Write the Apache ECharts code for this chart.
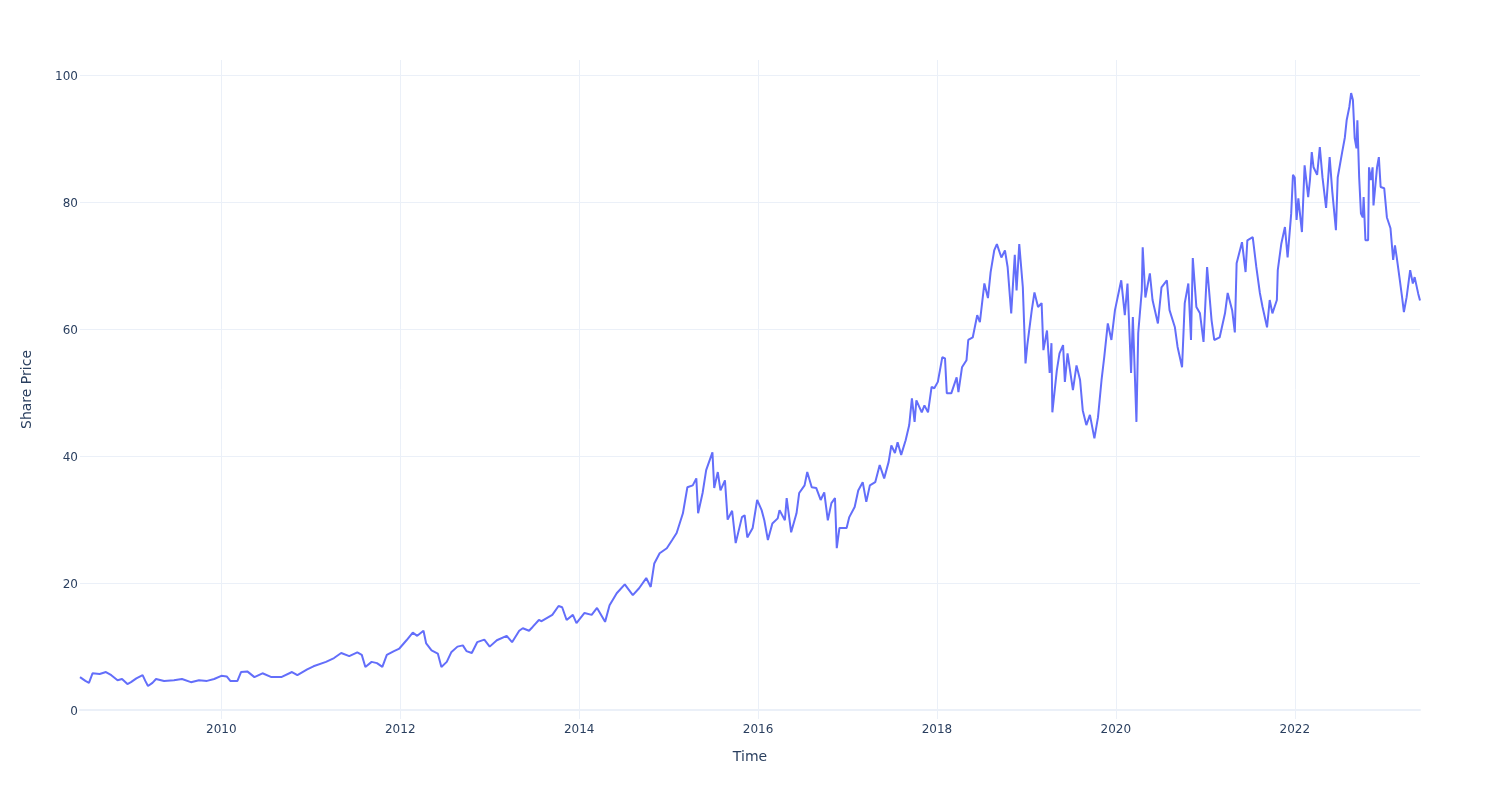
<!DOCTYPE html>
<html>
<head>
<meta charset="utf-8">
<script src="https://cdn.jsdelivr.net/npm/echarts@6/dist/echarts.min.js"></script>
<style>
html,body{margin:0;padding:0;background:#fff;}
#chart{width:1500px;height:800px;}
</style>
</head>
<body>
<div id="chart"></div>
<script>
// Time in decimal years, share price values
const years = [
2008.42,2008.48,2008.52,2008.56,2008.64,2008.71,2008.77,2008.84,2008.89,2008.95,2008.99,2009.05,2009.12,2009.15,2009.18,2009.23,2009.27,2009.36,2009.47,2009.56,2009.66,2009.75,2009.84,2009.92,
2010.00,2010.06,2010.10,2010.18,2010.22,2010.29,2010.37,2010.46,2010.56,2010.67,2010.79,2010.85,2010.96,
2011.03,2011.17,2011.26,2011.34,2011.43,2011.52,2011.57,2011.61,2011.68,2011.74,2011.80,2011.85,2011.93,2011.99,
2012.07,2012.14,2012.19,2012.26,2012.29,2012.35,2012.42,2012.46,2012.52,2012.57,2012.64,2012.70,2012.74,2012.80,2012.86,2012.94,
2013.00,2013.08,2013.19,2013.25,2013.33,2013.37,2013.44,2013.48,2013.55,2013.58,2013.70,2013.77,2013.81,2013.86,2013.93,2013.97,
2014.06,2014.14,2014.20,2014.29,2014.34,2014.42,2014.51,2014.60,2014.67,2014.75,2014.80,2014.84,2014.90,2014.98,
2015.04,2015.09,2015.16,2015.21,2015.27,2015.31,2015.33,2015.38,2015.42,2015.49,2015.51,2015.55,2015.58,2015.63,2015.66,2015.71,2015.75,2015.82,2015.85,2015.88,2015.94,2015.99,
2016.04,2016.07,2016.11,2016.16,2016.22,2016.24,2016.30,2016.32,2016.37,2016.43,2016.46,2016.52,2016.55,2016.60,2016.65,2016.70,2016.74,2016.78,2016.82,2016.86,2016.88,2016.91,2016.99,
2017.02,2017.08,2017.12,2017.17,2017.21,2017.25,2017.31,2017.36,2017.41,2017.46,2017.49,2017.53,2017.56,2017.60,2017.65,2017.69,2017.72,2017.75,2017.77,2017.83,2017.86,2017.90,2017.94,2017.97,
2018.01,2018.06,2018.09,2018.11,2018.16,2018.22,2018.24,2018.28,2018.33,2018.35,2018.40,2018.45,2018.48,2018.53,2018.57,2018.60,2018.64,2018.67,2018.72,2018.76,2018.79,2018.83,2018.87,2018.89,2018.92,2018.96,2018.99,
2019.01,2019.06,2019.09,2019.13,2019.17,2019.19,2019.23,2019.26,2019.28,2019.29,2019.34,2019.37,2019.41,2019.43,2019.46,2019.52,2019.56,2019.60,2019.63,2019.67,2019.71,2019.76,2019.80,2019.84,2019.87,2019.91,2019.95,2019.99,
2020.06,2020.10,2020.13,2020.17,2020.19,2020.23,2020.25,2020.29,2020.30,2020.33,2020.38,2020.41,2020.47,2020.51,2020.57,2020.60,2020.66,2020.69,2020.74,2020.77,2020.81,2020.84,2020.86,2020.90,2020.94,2020.98,
2021.02,2021.07,2021.10,2021.16,2021.22,2021.25,2021.30,2021.33,2021.35,2021.41,2021.45,2021.47,2021.53,2021.57,2021.61,2021.64,2021.69,2021.72,2021.75,2021.80,2021.81,2021.85,2021.89,2021.92,2021.96,2021.98,
2022.00,2022.02,2022.04,2022.08,2022.11,2022.15,2022.17,2022.19,2022.21,2022.25,2022.28,2022.30,2022.31,2022.35,2022.39,2022.42,2022.46,2022.48,2022.53,2022.56,2022.58,2022.61,2022.63,2022.65,2022.67,2022.69,2022.70,2022.72,2022.74,2022.76,2022.77,2022.79,2022.82,2022.83,2022.85,2022.87,2022.88,2022.92,2022.94,2022.96,
2023.00,2023.03,2023.07,2023.10,2023.12,2023.14,2023.17,2023.20,2023.22,2023.25,2023.29,2023.32,2023.34,2023.38,2023.40
];
const prices = [
5.2,4.6,4.3,5.8,5.7,6.0,5.5,4.7,4.9,4.1,4.4,5.0,5.5,4.6,3.8,4.3,4.9,4.6,4.7,4.9,4.4,4.7,4.6,4.9,
5.4,5.3,4.6,4.6,6.0,6.1,5.2,5.8,5.2,5.2,6.0,5.5,6.4,
6.9,7.6,8.2,9.0,8.5,9.1,8.7,6.8,7.6,7.4,6.8,8.7,9.3,9.7,
11.0,12.2,11.7,12.5,10.5,9.4,8.9,6.8,7.6,9.1,10.0,10.2,9.3,9.0,10.7,11.1,
10.0,11.0,11.7,10.7,12.5,12.9,12.5,13.1,14.2,14.0,15.0,16.4,16.2,14.2,15.0,13.7,
15.3,15.0,16.1,13.9,16.5,18.4,19.8,18.1,19.2,20.8,19.4,23.1,24.7,25.5,
26.8,27.9,31.0,35.1,35.4,36.5,31.0,34.2,37.8,40.6,35.0,37.5,34.6,36.2,30.0,31.4,26.3,30.4,30.7,27.2,28.7,33.1,
31.5,29.9,26.8,29.4,30.2,31.5,29.9,33.4,28.0,31.0,34.2,35.4,37.5,35.1,35.0,33.1,34.3,29.9,32.6,33.4,25.5,28.7,28.7,
30.4,32.0,34.6,35.9,32.8,35.4,35.9,38.6,36.5,39.1,41.7,40.5,42.2,40.2,42.5,44.9,49.1,45.4,48.8,46.9,48.0,46.9,50.9,50.7,
51.7,55.6,55.4,49.9,49.9,52.4,50.1,54.0,55.1,58.3,58.7,62.2,61.1,67.2,64.9,69.0,72.4,73.4,71.3,72.4,69.8,62.5,71.7,66.1,73.4,66.6,54.6,
57.5,63.0,65.8,63.5,64.1,56.7,59.8,53.1,57.8,46.9,53.5,56.2,57.5,51.7,56.2,50.4,54.3,52.0,47.2,44.9,46.5,42.8,46.1,52.0,55.6,60.9,58.3,63.0,
67.7,62.2,67.2,53.1,61.9,45.4,59.4,66.1,72.9,65.0,68.8,64.6,60.9,66.6,67.7,63.0,60.3,57.2,54.0,64.1,67.2,58.3,71.2,63.5,62.5,58.0,
69.8,61.4,58.3,58.7,62.5,65.7,63.0,59.5,70.4,73.7,69.0,74.0,74.5,69.8,65.7,63.5,60.3,64.6,62.5,64.6,69.3,73.5,76.1,71.3,78.2,84.3,
83.9,77.2,80.6,75.3,85.8,80.8,83.5,87.9,85.5,84.3,88.7,89.0,83.9,79.1,87.1,81.6,75.6,83.9,87.9,90.2,92.9,95.0,97.2,96.1,90.1,88.5,92.9,83.9,78.2,77.6,80.8,74.0,74.0,85.5,83.5,85.5,79.5,85.5,87.1,82.4,
82.2,77.6,75.9,70.9,73.2,71.3,68.2,65.0,62.7,65.0,69.3,67.2,68.2,65.6,64.5
];
const xTicks = [2010, 2012, 2014, 2016, 2018, 2020, 2022];
const yTicks = [0, 20, 40, 60, 80, 100];

const seriesData = years.map((y, i) => [y, prices[i]]);

const chart = echarts.init(document.getElementById('chart'), null, {renderer: 'canvas'});
const font = 'DejaVu Sans';
const txt = '#2a3f5f';
const gridC = '#EBF0F8';
chart.setOption({
  animation: false,
  backgroundColor: '#ffffff',
  textStyle: {fontFamily: font},
  grid: {left: 80, right: 80, top: 60, bottom: 81, containLabel: false},
  xAxis: {
    type: 'value',
    min: 2008.42,
    max: 2023.40,
    name: 'Time',
    nameLocation: 'middle',
    nameGap: 31,
    nameTextStyle: {color: txt, fontSize: 14, fontFamily: font},
    axisLine: {show: true, onZero: true, lineStyle: {color: gridC, width: 2}},
    axisTick: {show: false, customValues: xTicks},
    axisLabel: {customValues: xTicks, color: txt, fontSize: 12, fontFamily: font, margin: 5,
      formatter: v => String(Math.round(v))},
    splitLine: {show: true, lineStyle: {color: gridC, width: 1}}
  },
  yAxis: {
    type: 'value',
    min: -1.4,
    max: 102.4,
    name: 'Share Price',
    nameLocation: 'middle',
    nameGap: 46,
    nameTextStyle: {color: txt, fontSize: 14, fontFamily: font},
    axisLine: {show: false},
    axisTick: {show: false, customValues: yTicks},
    axisLabel: {customValues: yTicks, color: txt, fontSize: 12, fontFamily: font, margin: 2,
      verticalAlign: 'top', lineHeight: 4},
    splitLine: {show: true, lineStyle: {color: gridC, width: 1}}
  },
  series: [{
    type: 'line',
    data: seriesData,
    showSymbol: false,
    symbol: 'none',
    sampling: null,
    lineStyle: {color: '#636efa', width: 2},
    itemStyle: {color: '#636efa'}
  }]
});
</script>
</body>
</html>
